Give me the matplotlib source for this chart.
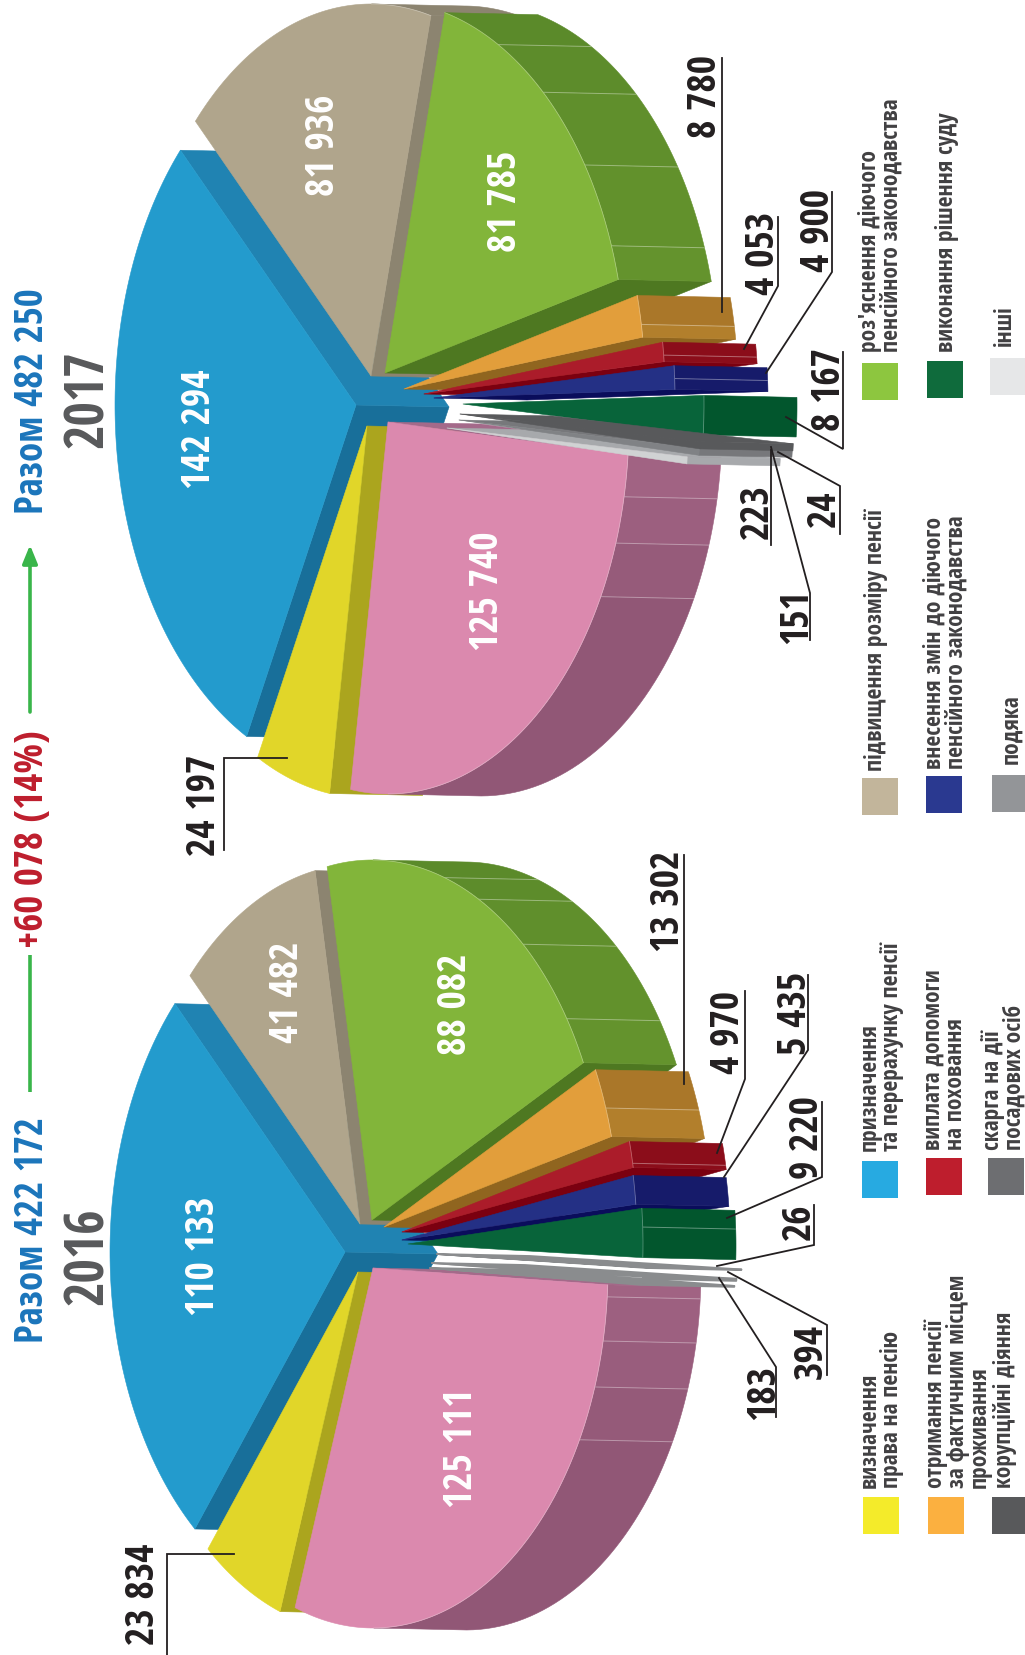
import numpy as np
import matplotlib
matplotlib.use("Agg")
import matplotlib.pyplot as plt
from matplotlib.colors import to_rgb

FONT = ['Open Sans Condensed', 'Roboto Condensed', 'DejaVu Sans']
plt.rcParams['font.family'] = FONT

# ---------- data ----------
KEYS = ['blue', 'tan', 'green', 'orange', 'red', 'navy', 'dgreen', 'g1', 'g2', 'g3', 'pink', 'yellow']
VALUES_2016 = [110133, 41482, 88082, 13302, 4970, 5435, 9220, 26, 394, 183, 125111, 23834]
VALUES_2017 = [142294, 81936, 81785, 8780, 4053, 4900, 8167, 151, 24, 223, 125740, 24197]
TOTAL_2016 = 'Разом 422 172'
TOTAL_2017 = 'Разом 482 250'
DELTA = '+60 078 (14%)'

# ---------- styles ----------
TOP = dict(blue='#239BCD', tan='#B0A58C', green='#82B53A', orange='#E29E3B', red='#AB1C2A', navy='#243085',
           dgreen='#08643A', pink='#DB89AE', yellow='#E1D629')
RIM = dict(blue=('#2083B2', '#2083B2'), tan=('#8C8470', '#8C8470'), green=('#5B8A2A', '#64932D'),
           orange=('#AA7729', '#B27F2C'), red=('#8B0D1A', '#8B0D1A'), navy=('#161B6A', '#161B6A'),
           dgreen=('#02562D', '#02562D'), pink=('#A16383', '#915776'), yellow=('#ABA51E', '#ABA51E'))
RAD_START = dict(blue='#186F9A', yellow='#ABA51E', pink='#A46A8A')
RAD_END = dict(blue='#2083B2', tan='#8C8470', green='#4E7821', orange='#90651F', red='#7B0010', navy='#0A0D5B')
EXTRUDE = (93, 2)

def to_hex_mix(a, b, f):
    ca, cb = np.array(to_rgb(a)), np.array(to_rgb(b))
    return tuple(ca + (cb - ca) * f)

fig = plt.figure(figsize=(10.25, 16.55), dpi=100)
ax = fig.add_axes([0, 0, 1, 1])
ax.set_xlim(0, 1025)
ax.set_ylim(1655, 0)
ax.axis('off')
Z = [1]
def nz():
    Z[0] += 1
    return Z[0]

def poly(pts, color, lw=0.4, ec=None):
    pts = np.asarray(pts)
    ax.fill(pts[:, 0], pts[:, 1], facecolor=color, edgecolor=ec if ec else color, lw=lw, zorder=nz(), joinstyle='round')

def draw_pie(values, center, a, b, start, offsets, order, seams, gray_top, gray_side, min_sweep, rscale, gray_lw):
    total = sum(values)
    sweeps = np.array(values) / total * 360
    starts = start + np.concatenate([[0], np.cumsum(sweeps)[:-1]])
    ex = np.array(EXTRUDE, float)
    for key in order:
        i = KEYS.index(key)
        s, sw = starts[i], sweeps[i]
        is_gray = key.startswith('g') and key != 'green'
        if is_gray and sw < min_sweep:
            s = s + sw / 2 - min_sweep / 2
            sw = min_sweep
        e = s + sw
        apex = np.array(center, float) + np.array(offsets[key], float)
        A, B = a * (rscale if is_gray else 1), b
        P = lambda t: apex + np.array([A * np.cos(np.radians(t)), B * np.sin(np.radians(t))])
        if is_gray:
            ts = np.linspace(s, e, 8)
            arc = [P(t) for t in ts]
            side = arc + [p + ex for p in arc[::-1]]
            poly(side, gray_side[key], lw=gray_lw, ec=gray_side[key])
            p0, p1 = P(s), P(e)
            poly([apex, p0, p0 + ex, apex + ex], gray_side[key], lw=gray_lw, ec=gray_side[key])
            poly([apex] + arc, gray_top[key], lw=gray_lw, ec=gray_side[key] if gray_lw > 0.5 else gray_top[key])
            continue
        # radial side faces
        if np.sin(np.radians(s)) > 0 and key in RAD_START:
            p = P(s)
            poly([apex, p, p + ex, apex + ex], RAD_START[key])
        if -np.sin(np.radians(e)) > 0 and key in RAD_END:
            p = P(e)
            poly([apex, p, p + ex, apex + ex], RAD_END[key])
        # rim side, split into seam-bounded panels
        ts = np.linspace(s, e, 241)
        vis = ts[np.cos(np.radians(ts)) > 0]
        if len(vis):
            lo, hi = vis.min(), vis.max()
            cuts = [lo]
            for m in sorted(((x - lo) % 360) for x in seams.get(key, [])):
                if 0 < m < hi - lo:
                    cuts.append(lo + m)
            cuts.append(hi)
            c1, c2 = RIM[key]
            for j in range(len(cuts) - 1):
                seg = [P(t) for t in np.linspace(cuts[j], cuts[j + 1], 40)]
                f = j / max(1, len(cuts) - 2)
                poly(seg + [p + ex for p in seg[::-1]], to_hex_mix(c1, c2, f))
            for c in cuts[1:-1]:
                p = P(c)
                ax.plot([p[0], p[0] + ex[0]], [p[1], p[1] + ex[1]], color='white', alpha=0.35, lw=0.7, zorder=nz())
        # top face
        arc = [P(t) for t in np.linspace(s, e, 120)]
        poly([apex] + arc, TOP[key])
        if len(vis):
            rim = np.array([P(t) for t in vis])
            ax.plot(rim[:, 0], rim[:, 1], color='white', alpha=0.3, lw=0.6, zorder=nz())

ORDER = ['blue', 'tan', 'yellow', 'green', 'pink', 'orange', 'red', 'navy', 'dgreen', 'g3', 'g2', 'g1']

draw_pie(VALUES_2017, (372, 400), 241, 372, 117.0,
         dict(blue=(-16, 5), tan=(-1, -24), green=(13, -27), orange=(32, -11), red=(52, -6), navy=(62, -2),
              dgreen=(91, 4), g1=(88, 14), g2=(87, 20), g3=(75, 28), pink=(16, 22), yellow=(-5, 26)),
         ORDER,
         dict(pink=[11.6, 19, 28], green=[340, 326, 311, 298], orange=[350], navy=[357], red=[354]),
         dict(g1='#58595B', g2='#808285', g3='#D0D2D3'),
         dict(g1='#58595B', g2='#77787B', g3='#A7A9AC'),
         1.1, 1.0, 0.4)

draw_pie(VALUES_2016, (360, 1247), 235, 360, 129.7,
         dict(blue=(-15, 5), tan=(0, -23), green=(12, -27), orange=(24, -20), red=(42, -15), navy=(42, -7),
              dgreen=(48, -3), g1=(77, 7), g2=(72, 16), g3=(70, 21), pink=(13, 21), yellow=(-2, 25)),
         ORDER,
         dict(pink=[4.6, 11.7, 19.3, 28.5], green=[326, 310, 297, 288], orange=[340.7], red=[349], dgreen=[357.3]),
         dict(g1='#FFFFFF', g2='#FFFFFF', g3='#FFFFFF'),
         dict(g1='#8A8C8E', g2='#8A8C8E', g3='#8A8C8E'),
         0.1, 0.9, 1.3)

# ---------- heading ----------
def vtext(x, y, s, size, color, weight='bold', **kw):
    ax.text(x, y, s, rotation=90, ha='center', va='center', fontsize=size, color=color,
            fontweight=weight, family=FONT, zorder=500, **kw)

vtext(33, 401, TOTAL_2017, 28, '#1B75BB')
vtext(33, 1230, TOTAL_2016, 28, '#1B75BB')
vtext(89, 399, '2017', 38, '#58595B')
vtext(89, 1256, '2016', 38, '#58595B')
vtext(33, 839, DELTA, 28, '#BE1E2D')
ax.plot([30, 30], [955, 1092], color='#39B54A', lw=2.6, zorder=500, solid_capstyle='butt')
ax.annotate('', xy=(30, 545), xytext=(30, 712), zorder=500,
            arrowprops=dict(arrowstyle='-|>,head_width=0.45,head_length=1.1', color='#39B54A', lw=2.6, shrinkA=0, shrinkB=0))

# ---------- values on the pies ----------
INSIDE = [(200, 429, '142 294'), (324, 145, '81 936'), (506, 201, '81 785'), (488, 591, '125 740'),
          (204, 1256, '110 133'), (288, 992, '41 482'), (456, 1004, '88 082'), (462, 1448, '125 111')]
for x, y, s in INSIDE:
    vtext(x, y, s, 28.5, 'white')

# ---------- outer labels with leaders ----------
OUTER = [(205, 805, '24 197', [(287, 758), (224, 758), (224, 850)]),
         (706, 96, '8 780', [(722, 58), (722, 312)]),
         (764, 253, '4 053', [(778, 217), (778, 286), (744, 349)]),
         (819, 230, '4 900', [(832, 192), (832, 272), (766, 373)]),
         (830, 390, '8 167', [(843, 352), (843, 449), (786, 417)]),
         (825, 509, '24', [(840, 534), (840, 486), (778, 452)]),
         (758, 512, '223', [(771, 545), (771, 450)]),
         (797, 617, '151', [(810, 640), (810, 593), (771, 447)]),
         (144, 1594, '23 834', [(234, 1554), (167, 1554), (167, 1655)]),
         (669, 901, '13 302', [(684, 855), (684, 1084)]),
         (729, 1033, '4 970', [(745, 991), (745, 1079), (717, 1153)]),
         (796, 1013, '5 435', [(808, 975), (808, 1050), (724, 1177)]),
         (808, 1138, '9 220', [(822, 1102), (822, 1177), (727, 1218)]),
         (800, 1222, '26', [(814, 1205), (814, 1245), (717, 1266)]),
         (812, 1351, '394', [(827, 1375), (827, 1325), (728, 1272)]),
         (764, 1392, '183', [(776, 1417), (776, 1367), (719, 1278)])]
for x, y, s, path in OUTER:
    vtext(x, y, s, 28.5, '#231F20')
    path = np.array(path)
    ax.plot(path[:, 0], path[:, 1], color='#231F20', lw=1.3, zorder=499, solid_joinstyle='miter')

# ---------- legend ----------
LEGEND = [(862, 898, 1161, 1198, '#27AAE1', 858, 1151, 'призначення\nта перерахунку пенсії'),
          (863, 899, 1497, 1534, '#F4EB2A', 858, 1488, 'визначення\nправа на пенсію'),
          (862, 898, 778, 815, '#C2B59B', 864, 771, 'підвищення розміру пенсії'),
          (862, 898, 363, 400, '#8DC63F', 858, 352, "роз'яснення діючого\nпенсійного законодавства"),
          (926, 962, 1158, 1195, '#BE1E2D', 922, 1150, 'виплата допомоги\nна поховання'),
          (928, 964, 1497, 1534, '#FBB040', 924, 1488, 'отримання пенсії\nза фактичним місцем\nпроживання'),
          (926, 962, 776, 813, '#2A3990', 923, 769, 'внесення змін до діючого\nпенсійного законодавства'),
          (927, 963, 361, 398, '#0F6B3C', 935, 352, 'виконання рішення суду'),
          (988, 1024, 1158, 1195, '#6D6E71', 981, 1150, 'скарга на дії\nпосадових осіб'),
          (992, 1025, 1497, 1534, '#58595B', 993, 1488, 'корупційні діяння'),
          (992, 1025, 775, 812, '#939598', 999, 764, 'подяка'),
          (990, 1025, 358, 395, '#E6E7E8', 993, 346, 'інші')]
for x0, x1, y0, y1, col, tx, ty, lab in LEGEND:
    ax.fill([x0, x1, x1, x0], [y0, y0, y1, y1], color=col, lw=0, zorder=400)
    ax.text(tx, ty, lab, rotation=90, ha='left', va='bottom', ma='left', fontsize=16.8, color='#414042',
            fontweight='bold', family=FONT, linespacing=0.88, zorder=500, clip_on=True)

fig.savefig('out.png', dpi=100, facecolor='white')
